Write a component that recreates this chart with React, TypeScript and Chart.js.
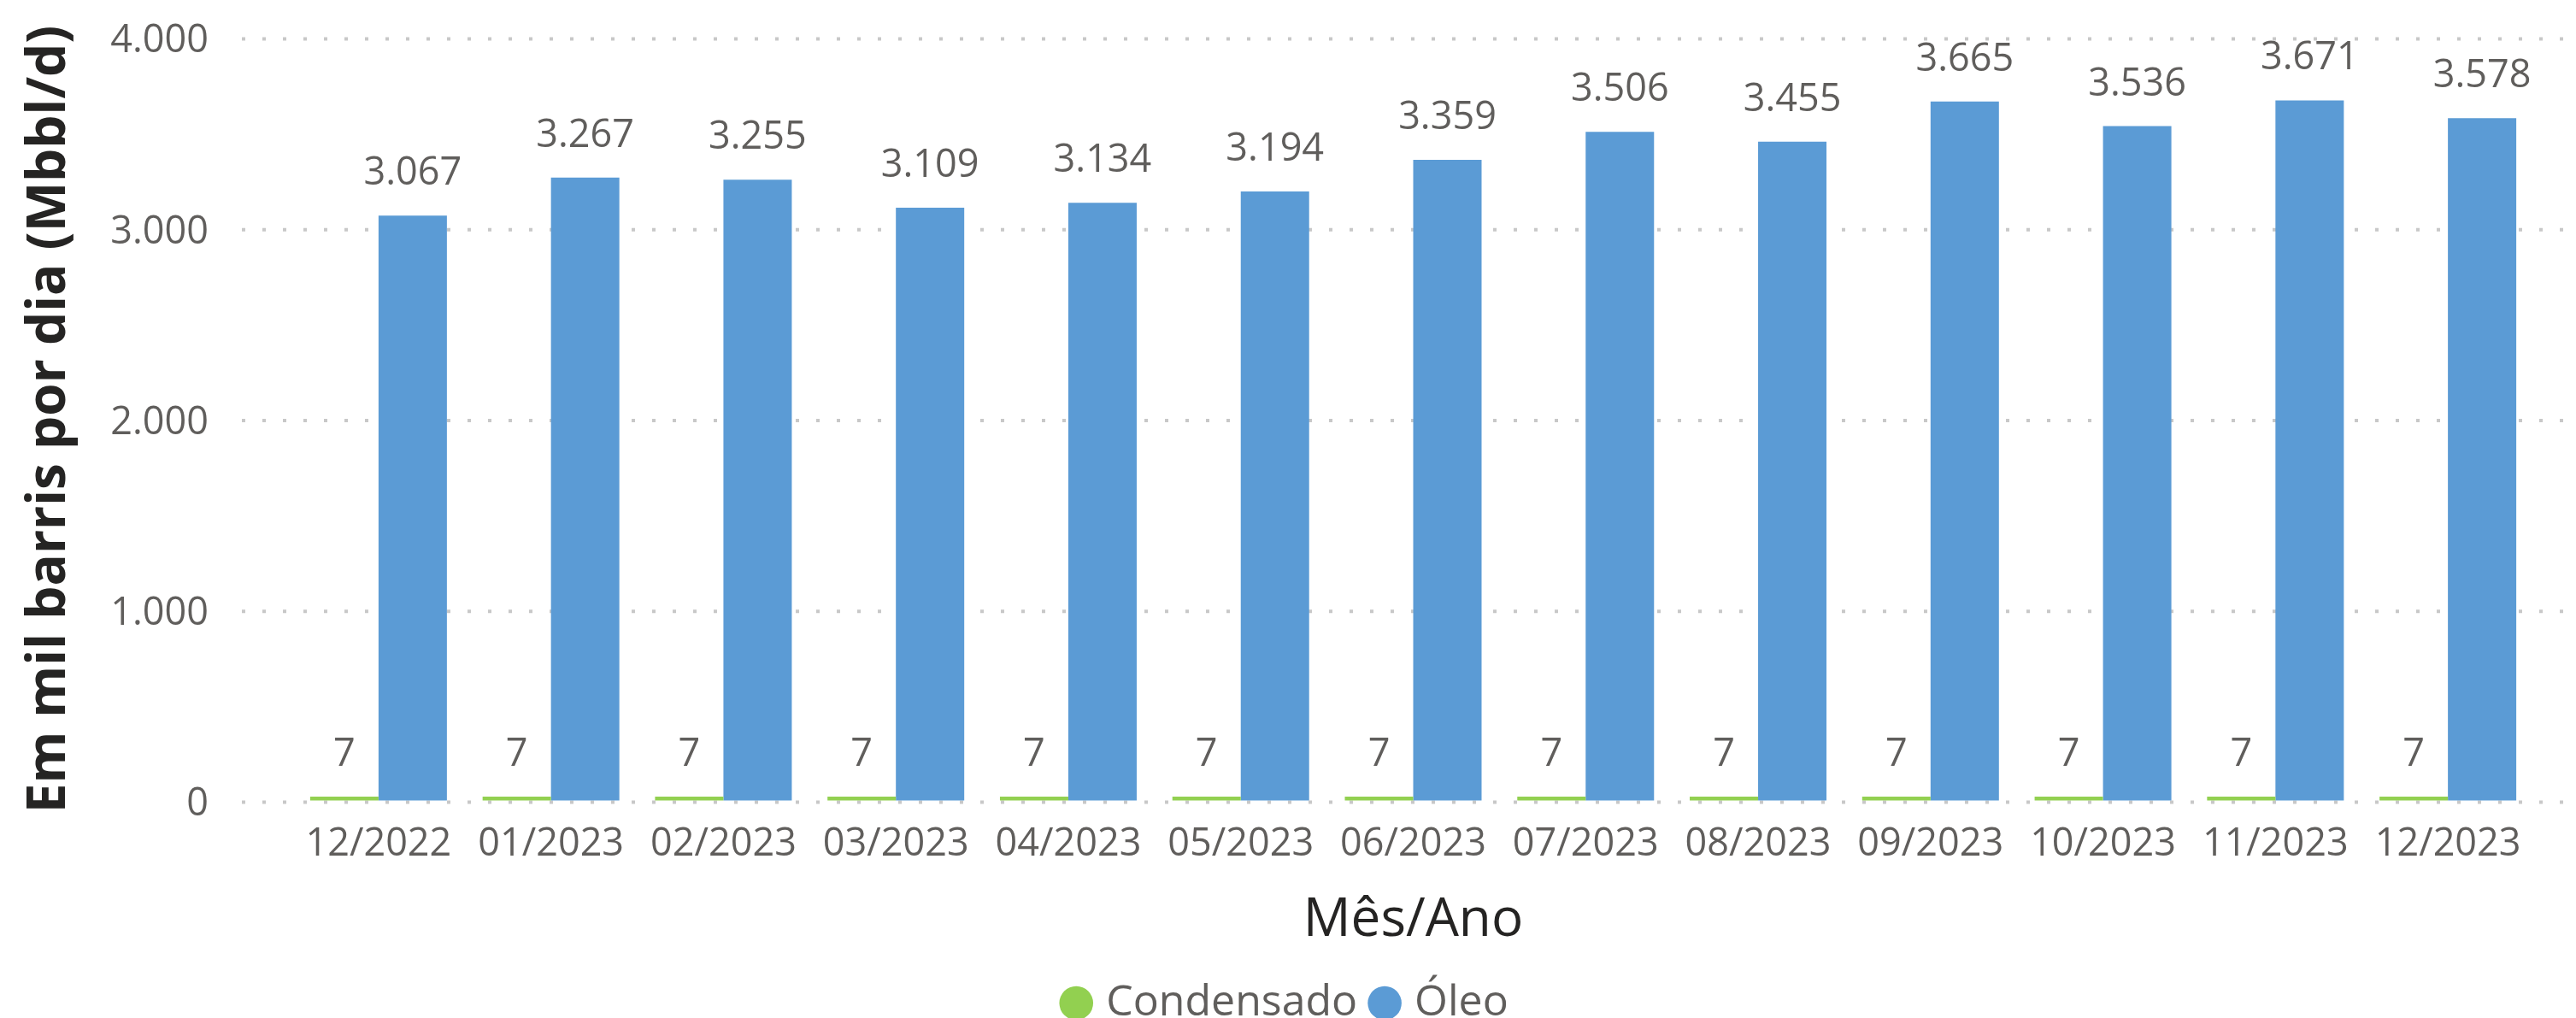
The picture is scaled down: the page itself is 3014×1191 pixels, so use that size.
import React, { useEffect, useRef } from 'react';
import { Chart, registerables } from 'chart.js';

Chart.register(...registerables);

// ---- Data ----
const categories = [
  '12/2022', '01/2023', '02/2023', '03/2023', '04/2023', '05/2023', '06/2023',
  '07/2023', '08/2023', '09/2023', '10/2023', '11/2023', '12/2023',
];
const condensadoValues = [7, 7, 7, 7, 7, 7, 7, 7, 7, 7, 7, 7, 7];
const oleoValues = [3067, 3267, 3255, 3109, 3134, 3194, 3359, 3506, 3455, 3665, 3536, 3671, 3578];
const seriesNames = ['Condensado', 'Óleo'];
const yMin = 0;
const yMax = 4000;
const yStep = 1000;
const yTitle = 'Em mil barris por dia (Mbbl/d)';
const xTitle = 'Mês/Ano';

// ---- Styles ----
const FONT = '"Open Sans", "Noto Sans", sans-serif';
const GREEN = '#92D050';
const BLUE = '#5B9BD5';
const LABEL_COLOR = '#605E5C';
const TITLE_COLOR = '#252423';

const fmt = (v: number) => String(v).replace(/\B(?=(\d{3})+(?!\d))/g, '.');

const dottedGridPlugin = {
  id: 'dottedGrid',
  beforeDatasetsDraw(chart: any) {
    const y = chart.scales.y;
    const { left, right } = chart.chartArea;
    const ctx = chart.ctx;
    ctx.save();
    ctx.strokeStyle = '#C8C8C8';
    ctx.lineWidth = 4;
    ctx.setLineDash([4, 20]);
    y.ticks.forEach((t: any) => {
      const py = y.getPixelForValue(t.value) + 1.5;
      ctx.beginPath();
      ctx.moveTo(left - 59, py);
      ctx.lineTo(right + 35, py);
      ctx.stroke();
    });
    ctx.restore();
  },
};

const valueLabelPlugin = {
  id: 'valueLabels',
  afterDatasetsDraw(chart: any) {
    const ctx = chart.ctx;
    ctx.save();
    ctx.font = `45px ${FONT}`;
    ctx.fillStyle = LABEL_COLOR;
    ctx.textAlign = 'center';
    ctx.textBaseline = 'alphabetic';
    chart.data.datasets.forEach((ds: any, i: number) => {
      const meta = chart.getDatasetMeta(i);
      meta.data.forEach((bar: any, j: number) => {
        ctx.fillText(fmt(ds.data[j]), bar.x, bar.y - 36);
      });
    });
    ctx.restore();
  },
};

export default function App() {
  const canvasRef = useRef<HTMLCanvasElement | null>(null);

  useEffect(() => {
    let chart: Chart | null = null;
    let cancelled = false;
    const build = () => {
      if (cancelled || !canvasRef.current) return;
      chart = new Chart(canvasRef.current, {
        type: 'bar',
        data: {
          labels: categories,
          datasets: [
            {
              label: seriesNames[0],
              data: condensadoValues,
              backgroundColor: GREEN,
              borderWidth: 0,
              minBarLength: 5,
              categoryPercentage: 0.793,
              barPercentage: 1.0,
            },
            {
              label: seriesNames[1],
              data: oleoValues,
              backgroundColor: BLUE,
              borderWidth: 0,
              categoryPercentage: 0.793,
              barPercentage: 1.0,
            },
          ],
        },
        options: {
          animation: false,
          responsive: true,
          maintainAspectRatio: false,
          devicePixelRatio: 1,
          layout: { padding: { top: 44, left: 0, right: 0, bottom: -17.6 } },
          plugins: {
            legend: {
              position: 'bottom',
              align: 'center',
              labels: {
                usePointStyle: true,
                pointStyle: 'circle',
                boxWidth: 20,
                boxHeight: 28,
                padding: 22,
                color: LABEL_COLOR,
                font: { family: FONT, size: 50 },
              },
            },
            tooltip: { enabled: false },
          },
          scales: {
            x: {
              type: 'category',
              grid: { display: false, drawTicks: false },
              border: { display: false },
              ticks: {
                color: LABEL_COLOR,
                font: { family: FONT, size: 45 },
                padding: 23.7,
                maxRotation: 0,
                autoSkip: false,
              },
              title: {
                display: true,
                text: xTitle,
                color: TITLE_COLOR,
                font: { family: FONT, size: 62 },
                padding: { top: 1.4, bottom: 12.4 },
              },
            },
            y: {
              type: 'linear',
              min: yMin,
              max: yMax,
              grid: {
                display: true,
                drawOnChartArea: false,
                drawTicks: true,
                tickLength: 98,
                tickColor: 'rgba(0,0,0,0)',
                color: 'rgba(0,0,0,0)',
              },
              border: { display: false },
              ticks: {
                stepSize: yStep,
                color: LABEL_COLOR,
                font: { family: FONT, size: 45 },
                padding: 0,
                labelOffset: 4.5,
                callback: (v: any) => fmt(Number(v)),
              },
              title: {
                display: true,
                text: yTitle,
                color: TITLE_COLOR,
                font: { family: FONT, size: 62, weight: 'bold' },
                padding: { top: 20.8, bottom: 0 },
              },
              afterFit: (s: any) => {
                s.width = 342;
              },
            },
            y2: {
              type: 'linear',
              position: 'right',
              display: true,
              grid: { display: false, drawTicks: false },
              border: { display: false },
              ticks: { display: false },
              afterFit: (s: any) => {
                s.width = 49;
              },
            },
          },
        },
        plugins: [dottedGridPlugin, valueLabelPlugin],
      });
    };
    const fontsReady = (document as any).fonts
      ? Promise.all([
          (document as any).fonts.load(`45px ${FONT}`),
          (document as any).fonts.load(`bold 62px ${FONT}`),
        ]).catch(() => null)
      : Promise.resolve(null);
    fontsReady.then(build);
    return () => {
      cancelled = true;
      if (chart) chart.destroy();
    };
  }, []);

  return (
    <div
      style={{
        position: 'fixed',
        left: 0,
        top: 0,
        width: 3014,
        height: 1191,
        background: '#ffffff',
      }}
    >
      <canvas ref={canvasRef} />
    </div>
  );
}
